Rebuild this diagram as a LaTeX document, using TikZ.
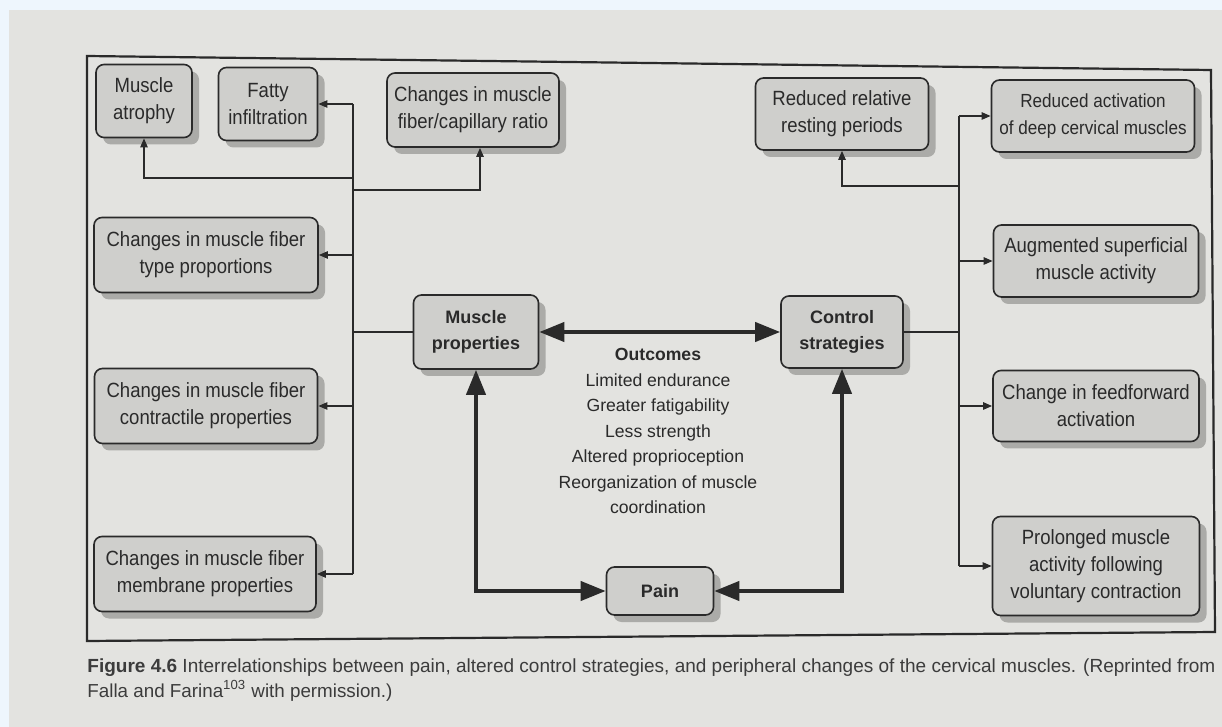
\documentclass[tikz,border=0pt]{standalone}
\usepackage{fontspec}
\setmainfont{Liberation Sans}
\newfontfamily\boxfont[FakeStretch=0.9]{Liberation Sans}
\usepackage{graphicx}
\usetikzlibrary{arrows.meta,shadows,calc}
\definecolor{pagebg}{HTML}{E3E3E0}
\definecolor{stripbg}{HTML}{EEF6FD}
\definecolor{boxfill}{HTML}{CFCFCC}
\definecolor{shadowc}{HTML}{ABABA8}
\definecolor{ink}{HTML}{2A2A2A}
\definecolor{captionc}{HTML}{3C3C3C}
\tikzset{
  cbox/.style={draw=ink, line width=0.8pt, fill=boxfill, rounded corners=4pt,
    align=center, inner sep=0pt, text=ink,
    font=\boxfont\fontsize{10.3}{13.5}\selectfont,
    drop shadow={shadow xshift=3.5pt, shadow yshift=-3.5pt, fill=shadowc, opacity=1}},
  bbox/.style={cbox, font=\fontsize{9}{13}\selectfont\bfseries},
  thinline/.style={draw=ink, line width=0.9pt},
  thinarrow/.style={thinline, -{Triangle[length=4.5pt,width=3.6pt]}},
  thickarrows/.style={draw=ink, line width=2pt,
    {Triangle[length=12.5pt,width=9.5pt]}-{Triangle[length=12.5pt,width=9.5pt]}},
}
\begin{document}
\begin{tikzpicture}[x=0.5pt,y=-0.5pt]
\fill[pagebg] (0,0) rectangle (1222,727);
\fill[stripbg] (0,0) rectangle (1222,10);
\fill[stripbg] (0,0) rectangle (9,727);
\useasboundingbox (0,0) rectangle (1222,727);
% frame
\draw[ink, line width=1.1pt] (87,56) -- (1211,70) -- (1215,632) -- (87,641) -- cycle;

% left boxes
\node[cbox, minimum width=48pt, minimum height=36.5pt] (atrophy) at (144,101) {Muscle\\atrophy};
\node[cbox, minimum width=49.5pt, minimum height=36.5pt] (fatty) at (268,104) {Fatty\\infiltration};
\node[cbox, minimum width=86pt, minimum height=37pt] (capillary) at (473,110) {Changes in muscle\\fiber/capillary ratio};
\node[cbox, minimum width=112pt, minimum height=37.5pt] (type) at (206,255) {Changes in muscle fiber\\type proportions};
\node[cbox, minimum width=111.5pt, minimum height=37.5pt] (contract) at (206,406) {Changes in muscle fiber\\contractile properties};
\node[cbox, minimum width=111pt, minimum height=37.5pt] (membrane) at (205,574) {Changes in muscle fiber\\membrane properties};

% center
\node[bbox, minimum width=62.5pt, minimum height=37pt] (mp) at (476,332) {Muscle\\properties};
\node[bbox, minimum width=61pt, minimum height=36pt] (cs) at (842,332) {Control\\strategies};
\node[bbox, minimum width=53.5pt, minimum height=24pt] (pain) at (660,591) {Pain};
\node[align=center, inner sep=0pt, text=ink, font=\fontsize{8.8}{12.75}\selectfont] (outcomes) at (658,431)
  {\textbf{Outcomes}\\Limited endurance\\Greater fatigability\\Less strength\\Altered proprioception\\Reorganization of muscle\\coordination};

% right boxes
\node[cbox, minimum width=86.5pt, minimum height=36pt] (rr) at (842,114) {Reduced relative\\resting periods};
\node[cbox, minimum width=101.5pt, minimum height=36pt, font=\boxfont\fontsize{9.5}{13.5}\selectfont] (ra) at (1093,116) {Reduced activation\\of deep cervical muscles};
\node[cbox, minimum width=102.5pt, minimum height=36pt] (aug) at (1096,261) {Augmented superficial\\muscle activity};
\node[cbox, minimum width=103pt, minimum height=35.5pt] (ff) at (1096,406) {Change in feedforward\\activation};
\node[cbox, minimum width=103.5pt, minimum height=49.5pt] (prol) at (1096,566) {Prolonged muscle\\activity following\\voluntary contraction};

% left trunk
\coordinate (L1) at (353,104);
\coordinate (La) at (353,178);
\coordinate (Lc) at (353,190);
\draw[thinline] (L1) -- (L1 |- membrane.east);
\draw[thinarrow] (L1) -- (fatty.east);
\draw[thinarrow] (La) -| (atrophy.south);
\draw[thinarrow] (Lc) -| ([xshift=3.5pt]capillary.south);
\draw[thinarrow] (L1 |- type.east) -- (type.east);
\draw[thinline] (mp.west) -- (mp.west -| L1);
\draw[thinarrow] (L1 |- contract.east) -- (contract.east);
\draw[thinarrow] (L1 |- membrane.east) -- (membrane.east);

% right trunk
\coordinate (R1) at (959,116);
\coordinate (Rr) at (959,186);
\draw[thinline] (R1) -- (R1 |- prol.west);
\draw[thinarrow] (R1) -- (ra.west);
\draw[thinarrow] (Rr) -| (rr.south);
\draw[thinarrow] (R1 |- aug.west) -- (aug.west);
\draw[thinarrow] (R1 |- ff.west) -- (ff.west);
\draw[thinarrow] (R1 |- prol.west) -- (prol.west);
\draw[thinline] (cs.east) -- (cs.east -| R1);

% thick connectors
\draw[thickarrows] (mp.east) -- (cs.west);
\draw[thickarrows] (mp.south) |- (pain.west);
\draw[thickarrows] (cs.south) |- (pain.east);

% caption
\node[anchor=base west, inner sep=0pt, text=captionc] (cap1) at (87,672)
  {\resizebox{564pt}{!}{\textbf{Figure 4.6} Interrelationships between pain, altered control strategies, and peripheral changes of the cervical muscles. (Reprinted from}};
\node[anchor=base west, inner sep=0pt, text=captionc, font=\fontsize{9.4}{12}\selectfont] (cap2) at (87,697)
  {Falla and Farina\textsuperscript{103} with permission.)};
\end{tikzpicture}
\end{document}
